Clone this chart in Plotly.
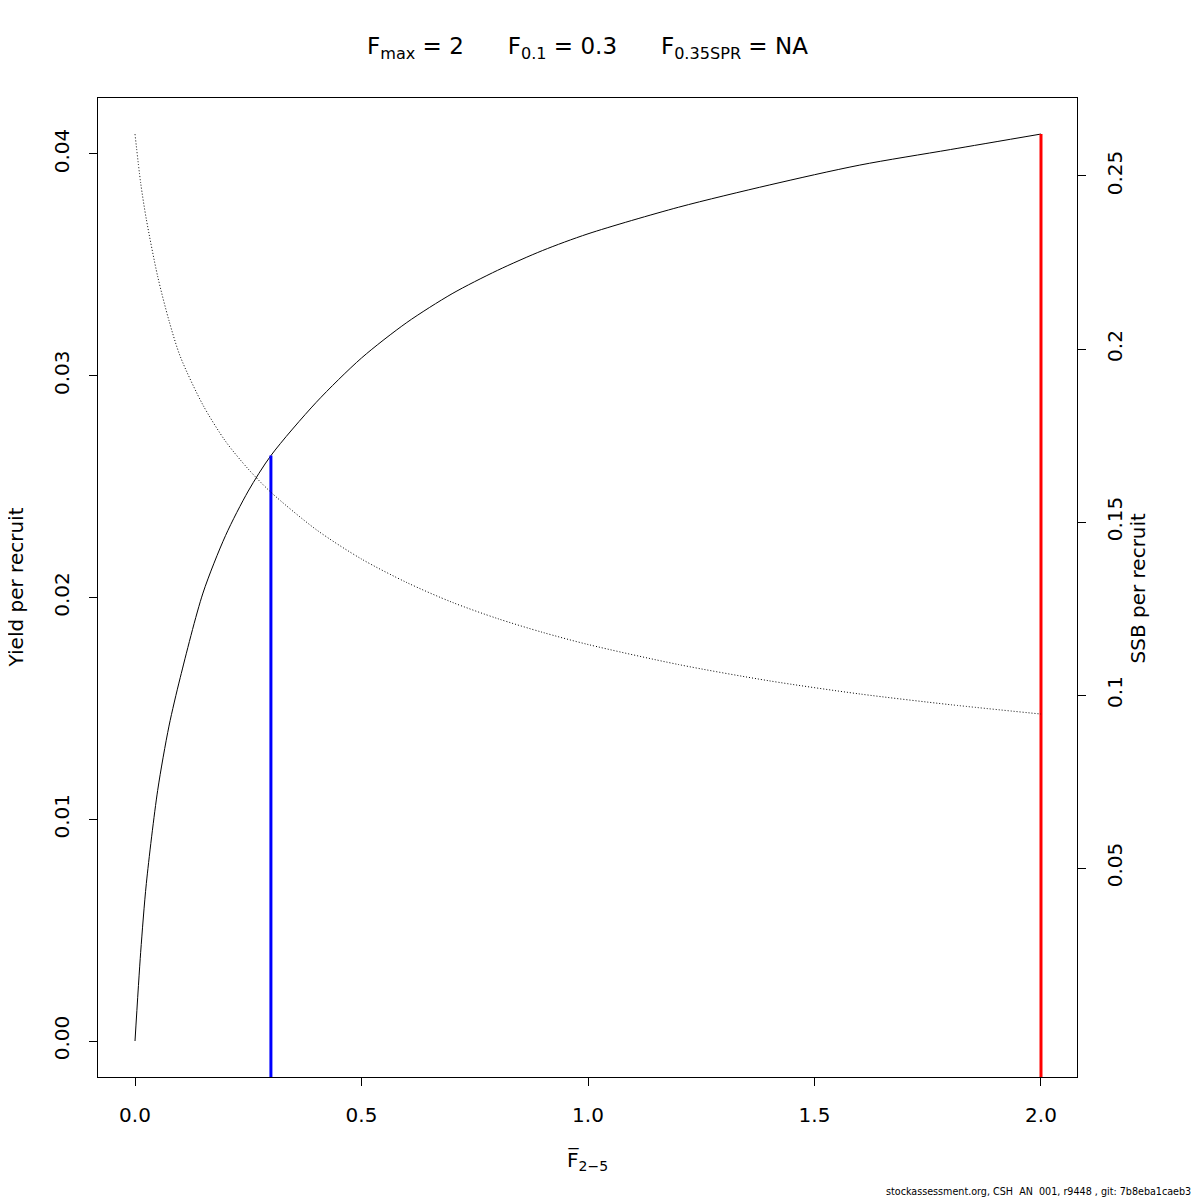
import plotly.graph_objects as go

# ---- data ----
F_values = [0, 0.0125, 0.025, 0.05, 0.075, 0.1, 0.15, 0.2, 0.25, 0.3, 0.4, 0.5,
            0.6, 0.7, 0.8, 0.9, 1.0, 1.2, 1.4, 1.6, 1.8, 2.0]
yield_per_recruit = [0, 0.0040, 0.0071, 0.0113, 0.0142, 0.0164, 0.0202, 0.0228,
                     0.0248, 0.0264, 0.0288, 0.0308, 0.0324, 0.0337, 0.03475, 0.03565,
                     0.0364, 0.0376, 0.0386, 0.0395, 0.0402, 0.0409]
ssb_per_recruit = [0.2621, 0.2480, 0.2375, 0.2210, 0.2082, 0.1978, 0.1838, 0.1733,
                   0.1653, 0.1586, 0.1478, 0.1393, 0.1325, 0.1268, 0.1221, 0.1181,
                   0.1146, 0.1088, 0.1041, 0.1003, 0.0972, 0.0945]
F01 = 0.3
Fmax = 2.0

x_ticks = [0.0, 0.5, 1.0, 1.5, 2.0]
x_ticktext = ["0.0", "0.5", "1.0", "1.5", "2.0"]
y_ticks = [0.00, 0.01, 0.02, 0.03, 0.04]
y_ticktext = ["0.00", "0.01", "0.02", "0.03", "0.04"]
y2_ticks = [0.05, 0.10, 0.15, 0.20, 0.25]
y2_ticktext = ["0.05", "0.1", "0.15", "0.2", "0.25"]

x_range = [-0.0817, 2.0795]
y_range = [-0.001623, 0.042525]
y2_range = [-0.0104, 0.27254]

FONT = "DejaVu Sans"
SP = "\u00a0" * 6

fig = go.Figure()
fig.add_trace(go.Scatter(x=F_values, y=yield_per_recruit, mode="lines",
                         line=dict(color="black", width=1, shape="spline", smoothing=0.8),
                         showlegend=False))
fig.add_trace(go.Scatter(x=F_values, y=ssb_per_recruit, mode="lines", yaxis="y2",
                         line=dict(color="black", width=1, dash="1px,2px", shape="spline",
                                   smoothing=0.8),
                         showlegend=False))

y01 = yield_per_recruit[F_values.index(F01)]
ymax = yield_per_recruit[F_values.index(Fmax)]
fig.add_trace(go.Scatter(x=[F01, F01], y=[y_range[0] - 0.01, y01], mode="lines",
                         line=dict(color="#0000ff", width=3), showlegend=False))
fig.add_trace(go.Scatter(x=[Fmax, Fmax], y=[y_range[0] - 0.01, ymax], mode="lines",
                         line=dict(color="#ff0000", width=3), showlegend=False))

axis_common = dict(showgrid=False, zeroline=False, showline=True, linecolor="black",
                   linewidth=1, ticks="outside", ticklen=8, tickcolor="black",
                   tickfont=dict(family=FONT, size=20, color="black"))

fig.update_layout(
    width=1200, height=1200,
    margin=dict(l=90, r=131, t=90, b=131),
    plot_bgcolor="white", paper_bgcolor="white",
    font=dict(family=FONT, color="black"),
    xaxis=dict(range=x_range, tickvals=x_ticks, ticktext=x_ticktext,
               mirror=True, ticklabelstandoff=12, **axis_common),
    yaxis=dict(range=y_range, tickvals=y_ticks, ticktext=y_ticktext,
               tickangle=-90, ticklabelstandoff=12, **axis_common),
    yaxis2=dict(range=y2_range, tickvals=y2_ticks, ticktext=y2_ticktext,
                overlaying="y", side="right", tickangle=-90, ticklabelstandoff=12,
                **axis_common),
    annotations=[
        dict(text="F<sub>max</sub> = 2" + SP + "F<sub>0.1</sub> = 0.3" + SP + "F<sub>0.35SPR</sub> = NA",
             xref="paper", yref="paper", x=0.5, y=1.051, xanchor="center", yanchor="middle",
             showarrow=False, font=dict(family=FONT, size=23, color="black")),
        dict(text="F\u0305<sub>2\u22125</sub>", xref="paper", yref="paper", x=0.5, y=-0.0848,
             xanchor="center", yanchor="middle", showarrow=False,
             font=dict(family=FONT, size=20, color="black")),
        dict(text="Yield per recruit", xref="paper", yref="paper", x=-0.0838, y=0.5,
             xanchor="center", yanchor="middle", textangle=-90, showarrow=False,
             font=dict(family=FONT, size=20, color="black")),
        dict(text="SSB per recruit", xref="paper", yref="paper", x=1.0623, y=0.5,
             xanchor="center", yanchor="middle", textangle=-90, showarrow=False,
             font=dict(family=FONT, size=20, color="black")),
        dict(text="stockassessment.org, CSH  AN  001, r9448 , git: 7b8eba1caeb3",
             xref="paper", yref="paper", x=1.1185, y=-0.1172, xanchor="right",
             yanchor="middle", showarrow=False,
             font=dict(family=FONT, size=9.6, color="black")),
    ],
)

fig.write_html("out.html")
